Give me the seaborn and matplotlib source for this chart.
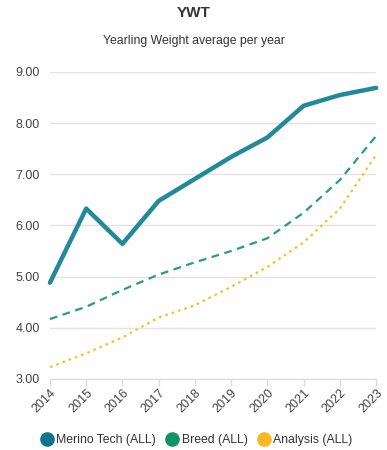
import matplotlib
matplotlib.use("Agg")
import matplotlib.pyplot as plt
import seaborn as sns
import pandas as pd
from matplotlib.lines import Line2D

years = [2014, 2015, 2016, 2017, 2018, 2019, 2020, 2021, 2022, 2023]
merino = [4.88, 6.33, 5.64, 6.48, 6.91, 7.34, 7.72, 8.34, 8.55, 8.69]
breed = [4.17, 4.41, 4.74, 5.04, 5.28, 5.50, 5.75, 6.25, 6.89, 7.75]
analysis = [3.23, 3.50, 3.81, 4.20, 4.44, 4.80, 5.19, 5.67, 6.33, 7.38]
series_names = ["Merino Tech (ALL)", "Breed (ALL)", "Analysis (ALL)"]
ytick_vals = [3, 4, 5, 6, 7, 8, 9]

line_colors = ["#21899a", "#2a9d78", "#fbbf2a"]
legend_colors = ["#0e7490", "#0f9468", "#fbb824"]

sns.set_theme(style="white")
plt.rcParams['font.family'] = ['Liberation Sans', 'DejaVu Sans']

df = pd.DataFrame({"year": years * 3,
                   "value": merino + breed + analysis,
                   "series": [series_names[0]] * 10 + [series_names[1]] * 10 + [series_names[2]] * 10})

fig = plt.figure(figsize=(3.87, 4.5), dpi=100)
ax = fig.add_axes([0.129, 0.158, 0.843, 0.682])

styles = [dict(lw=3.2, ls="-"), dict(lw=1.6, ls=(0, (3.5, 2.5))), dict(lw=1.6, ls=(0, (1.2, 1.8)))]
for name, c, st in zip(series_names, line_colors, styles):
    sub = df[df.series == name]
    sns.lineplot(data=sub, x="year", y="value", ax=ax, color=c, linewidth=st["lw"],
                 linestyle=st["ls"], legend=False, zorder=3)
for ln in ax.get_lines():
    ln.set_clip_on(False)

ax.set_xlim(2014, 2023)
ax.set_ylim(3, 9)
ax.set_yticks(ytick_vals)
ax.set_yticklabels([f"{v:.2f}" for v in ytick_vals])
ax.set_xticks(years)
ax.set_xticklabels([str(y) for y in years], rotation=45, ha="right", rotation_mode="anchor")
ax.yaxis.grid(True, color="#e3e3e3", lw=1)
ax.xaxis.grid(False)
ax.set_xlabel("")
ax.set_ylabel("")
for s in ["top", "right", "left"]:
    ax.spines[s].set_visible(False)
ax.spines["bottom"].set_color("#dddddd")
ax.spines["bottom"].set_linewidth(1)
ax.tick_params(axis="x", colors="#dddddd", labelcolor="#444444", labelsize=9, length=5, width=1, direction="out", bottom=True, pad=1)
ax.tick_params(axis="y", labelcolor="#444444", labelsize=9, length=0, pad=7)

fig.text(0.5, 0.972, "YWT", ha="center", va="center", fontsize=11, fontweight="bold", color="#333333")
fig.text(0.5, 0.909, "Yearling Weight average per year", ha="center", va="center", fontsize=8.8, color="#333333")

handles = [Line2D([], [], marker="o", ls="none", markersize=9.5, markerfacecolor=c, markeredgecolor=c) for c in legend_colors]
fig.legend(handles, series_names, loc="center", bbox_to_anchor=(0.5, 0.022), ncol=3, frameon=False,
           fontsize=8.8, handletextpad=-0.2, columnspacing=0.3, labelcolor="#333333")

fig.savefig("out.png", dpi=100)
